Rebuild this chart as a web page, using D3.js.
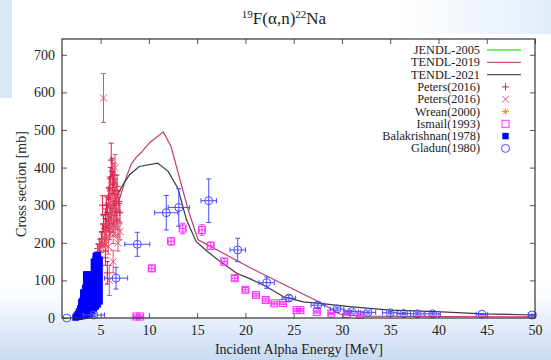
<!DOCTYPE html>
<html>
<head>
<meta charset="utf-8">
<script src="https://cdn.jsdelivr.net/npm/d3@7"></script>
<style>
  body { margin: 0; background: #fff; }
  svg { display: block; font-family: "Liberation Serif", "DejaVu Serif", serif; }
</style>
</head>
<body>
<svg width="551" height="360"></svg>
<script>
// values: energy in MeV, cross section in mb
const xTicks = [5, 10, 15, 20, 25, 30, 35, 40, 45, 50];
const yTicks = [0, 100, 200, 300, 400, 500, 600, 700];
const legendNames = ['JENDL-2005', 'TENDL-2019', 'TENDL-2021', 'Peters(2016)', 'Peters(2016)',
  'Wrean(2000)', 'Ismail(1993)', 'Balakrishnan(1978)', 'Gladun(1980)'];

// evaluations [E, sigma]
const jendl2005 = [];
const tendl2019 = [[5.5, 220], [6.3, 290], [7.0, 320], [7.7, 378], [8.2, 410], [8.7, 428], [9.2, 440],
  [10.1, 467], [11.5, 495], [12.3, 456], [13.2, 370], [14.1, 285], [15.1, 208], [20.4, 135],
  [27.9, 39], [29.8, 10], [32.0, 5], [40.0, 4], [50.0, 3]];
const tendl2021 = [[5.5, 230], [6.2, 290], [6.8, 332], [7.5, 362], [8.0, 381], [9.0, 403], [10.9, 412],
  [12.0, 390], [13.0, 345], [13.9, 261], [14.9, 203], [16.1, 176], [17.5, 148], [19.1, 119],
  [20.5, 104], [22.2, 83], [23.9, 57], [24.6, 52], [26.0, 43], [27.7, 39], [30.8, 30], [35.0, 21],
  [39.8, 17], [44.6, 11], [49.8, 8]];

// measurements [E, sigma, dSigma]
const petersPlus = [[4.7, 185, 12], [4.9, 195, 15], [5.0, 175, 15], [5.1, 210, 18], [5.2, 230, 20],
  [5.2, 300, 25], [5.3, 250, 22], [5.4, 215, 20], [5.5, 265, 25], [5.5, 160, 20], [5.6, 240, 22],
  [5.6, 300, 25], [5.7, 280, 25], [5.7, 120, 30], [5.8, 320, 28], [5.8, 255, 25], [5.9, 345, 30],
  [5.9, 230, 22], [6.0, 300, 28], [6.0, 370, 30], [6.1, 420, 45], [6.1, 275, 25], [6.2, 330, 30],
  [6.2, 390, 35], [6.3, 250, 22], [6.3, 360, 30], [6.4, 310, 28], [6.4, 380, 32], [6.5, 280, 25],
  [6.5, 340, 30], [6.6, 300, 28], [6.7, 350, 30], [6.7, 260, 25], [6.9, 310, 28], [7.0, 280, 25]];
const petersCross = [[5.3, 585, 65], [4.8, 170, 15], [5.0, 190, 15], [5.2, 205, 18], [5.4, 230, 20],
  [5.5, 195, 18], [5.6, 210, 20], [5.7, 250, 22], [5.8, 190, 20], [5.9, 280, 25], [6.0, 240, 22],
  [6.0, 330, 30], [6.1, 260, 25], [6.2, 300, 28], [6.3, 220, 22], [6.4, 270, 25], [6.5, 240, 22],
  [6.5, 400, 35], [6.6, 320, 30], [6.7, 290, 28], [6.8, 240, 25], [6.8, 200, 22], [5.9, 100, 40],
  [6.3, 150, 30], [7.0, 230, 22]];
const wrean = [[2.4, 10], [2.6, 18], [2.9, 24], [3.1, 30]];
const ismail = [[8.7, 4, 4], [9.1, 4, 4], [10.3, 132, 8], [12.3, 204, 10], [13.5, 238, 14],
  [15.5, 234, 14], [16.4, 192, 10], [17.8, 150, 9], [18.9, 106, 7], [20.0, 75, 6], [21.1, 61, 5],
  [22.1, 48, 5], [23.0, 39, 4], [23.9, 40, 4], [25.3, 21, 4], [25.7, 21, 4], [27.4, 16, 3],
  [28.9, 12, 3], [30.5, 11, 3], [31.9, 8, 3]];
const balakrishnan = [
  [2.4, 1], [2.5, 4], [2.6, 8],
  [2.7, 3], [2.7, 12], [2.8, 18],
  [2.9, 4], [2.9, 14], [2.9, 26], [3.0, 34], [3.0, 42],
  [3.1, 5], [3.1, 18], [3.1, 32], [3.1, 46], [3.2, 56], [3.2, 68],
  [3.3, 6], [3.3, 20], [3.3, 35], [3.3, 50], [3.3, 65], [3.4, 80],
  [3.5, 7], [3.5, 22], [3.5, 38], [3.5, 54], [3.5, 70], [3.5, 86], [3.5, 102], [3.5, 116],
  [3.7, 8], [3.7, 24], [3.7, 40], [3.7, 56], [3.7, 72], [3.7, 88], [3.7, 104], [3.7, 116],
  [3.9, 10], [3.9, 26], [3.9, 42], [3.9, 58], [3.9, 74], [3.9, 90], [3.9, 106], [3.9, 115],
  [4.1, 18], [4.1, 32], [4.1, 48], [4.1, 64], [4.1, 80], [4.1, 92],
  [4.3, 24], [4.3, 40], [4.3, 56], [4.3, 72], [4.3, 88], [4.3, 104], [4.3, 120], [4.3, 136], [4.3, 150],
  [4.5, 30], [4.5, 46], [4.5, 62], [4.5, 78], [4.5, 94], [4.5, 110], [4.5, 126], [4.5, 142], [4.5, 158], [4.5, 166],
  [4.7, 36], [4.7, 52], [4.7, 68], [4.7, 84], [4.7, 100], [4.7, 116], [4.7, 132], [4.7, 148], [4.7, 164], [4.7, 168],
  [4.9, 44], [4.9, 60], [4.9, 76], [4.9, 92], [4.9, 108], [4.9, 124], [4.9, 140], [4.9, 155]];
// [E, sigma, dE, dSigma]
const gladun = [[1.5, 0, 0, 0], [4.3, 8, 1.1, 4], [6.6, 106, 1.2, 29], [8.8, 196, 1.3, 32],
  [11.8, 280, 1.2, 46], [13.1, 294, 1.1, 50], [16.2, 312, 0.8, 58], [19.2, 181, 0.8, 31],
  [22.2, 94, 0.8, 15], [24.5, 53, 0.7, 8], [27.5, 34, 0.7, 6], [29.5, 24, 0.7, 5], [31.0, 17, 0.7, 4],
  [32.7, 15, 0.8, 4], [35.0, 14, 0.8, 3], [36.4, 12, 0.7, 3], [37.8, 11, 0.7, 3], [39.4, 11, 0.8, 3],
  [44.5, 10, 0.6, 2], [49.7, 8, 0.4, 2]];

const svg = d3.select('svg');
const defs = svg.append('defs');

// slide background
const gBottom = defs.append('linearGradient').attr('id', 'bottomFade')
  .attr('x1', 0).attr('y1', 0).attr('x2', 0).attr('y2', 1);
gBottom.append('stop').attr('offset', '0%').attr('stop-color', '#d4e4f7').attr('stop-opacity', 0);
gBottom.append('stop').attr('offset', '100%').attr('stop-color', '#c6daf3').attr('stop-opacity', 1);
const gTop = defs.append('linearGradient').attr('id', 'topFade')
  .attr('x1', 0).attr('y1', 0).attr('x2', 1).attr('y2', 0);
gTop.append('stop').attr('offset', '0%').attr('stop-color', '#e2ecf9').attr('stop-opacity', 0);
gTop.append('stop').attr('offset', '100%').attr('stop-color', '#e2ecf9').attr('stop-opacity', 1);

svg.append('rect').attr('x', 0).attr('y', 285).attr('width', 551).attr('height', 75).attr('fill', 'url(#bottomFade)');
svg.append('rect').attr('x', 0).attr('y', 0).attr('width', 12).attr('height', 98).attr('fill', '#d9e6f8');
svg.append('rect').attr('x', 400).attr('y', 0).attr('width', 151).attr('height', 34).attr('fill', 'url(#topFade)');

const margin = { top: 39, right: 16, bottom: 42, left: 62 };
const width = +svg.attr('width');
const height = +svg.attr('height');
const plotW = width - margin.left - margin.right;
const plotH = height - margin.top - margin.bottom;

const x = d3.scaleLinear().domain([1, 50]).range([0, plotW]);
const y = d3.scaleLinear().domain([0, 742]).range([plotH, 0]);

const chart = svg.append('g').attr('transform', `translate(${margin.left},${margin.top})`);
chart.append('rect').attr('width', plotW).attr('height', plotH).attr('fill', '#fff');

// axes, gnuplot style: inward ticks mirrored on all sides
const styleAxis = (g) => {
  g.select('.domain').remove();
  g.selectAll('.tick line').attr('stroke', '#555');
  g.selectAll('.tick text').attr('fill', '#222')
    .style('font-family', '"Liberation Serif", serif').style('font-size', '14px');
};
chart.append('g').attr('transform', `translate(0,${plotH})`)
  .call(d3.axisBottom(x).tickValues(xTicks).tickSizeInner(-5).tickSizeOuter(0).tickPadding(7))
  .call(styleAxis);
chart.append('g')
  .call(d3.axisTop(x).tickValues(xTicks).tickSizeInner(-5).tickSizeOuter(0).tickFormat(''))
  .call(styleAxis);
chart.append('g')
  .call(d3.axisLeft(y).tickValues(yTicks).tickSizeInner(-5).tickSizeOuter(0).tickPadding(7))
  .call(styleAxis);
chart.append('g').attr('transform', `translate(${plotW},0)`)
  .call(d3.axisRight(y).tickValues(yTicks).tickSizeInner(-5).tickSizeOuter(0).tickFormat(''))
  .call(styleAxis);

// curves
const line = d3.line().x((d) => x(d[0])).y((d) => y(d[1]));
chart.append('path').datum(jendl2005).attr('d', line).attr('fill', 'none').attr('stroke', '#44ee44').attr('stroke-width', 1.2);
chart.append('path').datum(tendl2019).attr('d', line).attr('fill', 'none').attr('stroke', '#c23a6c').attr('stroke-width', 1.2);
chart.append('path').datum(tendl2021).attr('d', line).attr('fill', 'none').attr('stroke', '#3a3a3a').attr('stroke-width', 1.2);

// point symbols
function symbolPath(type, s) {
  if (type === 'plus') return `M${-s},0H${s}M0,${-s}V${s}`;
  if (type === 'cross') return `M${-s},${-s}L${s},${s}M${-s},${s}L${s},${-s}`;
  if (type === 'star') return `M${-s},0H${s}M0,${-s}V${s}M${-s * 0.75},${-s * 0.75}L${s * 0.75},${s * 0.75}M${-s * 0.75},${s * 0.75}L${s * 0.75},${-s * 0.75}`;
  return '';
}
function drawSymbol(g, type, cx, cy, color) {
  if (type === 'square') {
    g.append('rect').attr('x', cx - 3.5).attr('y', cy - 3.5).attr('width', 7).attr('height', 7)
      .attr('fill', 'none').attr('stroke', color).attr('stroke-width', 1);
  } else if (type === 'fsquare') {
    g.append('rect').attr('x', cx - 3.2).attr('y', cy - 3.2).attr('width', 6.4).attr('height', 6.4)
      .attr('fill', color);
  } else if (type === 'circle') {
    g.append('circle').attr('cx', cx).attr('cy', cy).attr('r', 4)
      .attr('fill', 'none').attr('stroke', color).attr('stroke-width', 1);
  } else {
    g.append('path').attr('transform', `translate(${cx},${cy})`).attr('d', symbolPath(type, 3.5))
      .attr('fill', 'none').attr('stroke', color).attr('stroke-width', 1);
  }
}
function yErr(g, e, s, ds, color) {
  if (!ds) return;
  const px = x(e), y0 = y(s - ds), y1 = y(s + ds);
  g.append('path').attr('d', `M${px},${y0}V${y1}M${px - 2.5},${y0}H${px + 2.5}M${px - 2.5},${y1}H${px + 2.5}`)
    .attr('fill', 'none').attr('stroke', color).attr('stroke-width', 1);
}
function xErr(g, e, s, de, color) {
  if (!de) return;
  const py = y(s), x0 = x(e - de), x1 = x(e + de);
  g.append('path').attr('d', `M${x0},${py}H${x1}M${x0},${py - 2.5}V${py + 2.5}M${x1},${py - 2.5}V${py + 2.5}`)
    .attr('fill', 'none').attr('stroke', color).attr('stroke-width', 1);
}

const pts = chart.append('g');
const cPlus = '#d81e48', cCross = '#e2506e', cWrean = '#ff9a1a', cIsmail = '#ff30ff', cBala = '#0000ff', cGladun = '#4a4aff';

const gPlus = pts.append('g');
petersPlus.forEach((d) => { yErr(gPlus, d[0], d[1], d[2], cPlus); drawSymbol(gPlus, 'plus', x(d[0]), y(d[1]), cPlus); });
const gCross = pts.append('g');
petersCross.forEach((d) => { yErr(gCross, d[0], d[1], d[2], cCross); drawSymbol(gCross, 'cross', x(d[0]), y(d[1]), cCross); });
const gWrean = pts.append('g');
wrean.forEach((d) => drawSymbol(gWrean, 'star', x(d[0]), y(d[1]), cWrean));
const gIsmail = pts.append('g');
ismail.forEach((d) => {
  yErr(gIsmail, d[0], d[1], d[2], cIsmail);
  xErr(gIsmail, d[0], d[1], 0.3, cIsmail);
  drawSymbol(gIsmail, 'square', x(d[0]), y(d[1]), cIsmail);
});
const gBala = pts.append('g');
balakrishnan.forEach((d) => drawSymbol(gBala, 'fsquare', x(d[0]), y(d[1]), cBala));
const gGladun = pts.append('g');
gladun.forEach((d) => {
  yErr(gGladun, d[0], d[1], d[3], cGladun);
  xErr(gGladun, d[0], d[1], d[2], cGladun);
  drawSymbol(gGladun, 'circle', x(d[0]), y(d[1]), cGladun);
});

// frame
chart.append('rect').attr('width', plotW).attr('height', plotH)
  .attr('fill', 'none').attr('stroke', '#333').attr('stroke-width', 1.2);

// legend
const legendStyles = [
  { kind: 'line', color: '#44ee44' },
  { kind: 'line', color: '#d04a80' },
  { kind: 'line', color: '#555' },
  { kind: 'plus', color: cPlus },
  { kind: 'cross', color: cCross },
  { kind: 'star', color: cWrean },
  { kind: 'square', color: cIsmail },
  { kind: 'fsquare', color: cBala },
  { kind: 'circle', color: cGladun }
];
const legend = svg.append('g').attr('transform', 'translate(480,50)');
legendNames.forEach((name, i) => {
  const row = legend.append('g').attr('transform', `translate(0,${i * 12.3})`);
  row.append('text').attr('x', 0).attr('y', 0).attr('dy', '0.33em').attr('text-anchor', 'end')
    .style('font-size', '12.3px').attr('fill', '#222').text(name);
  const st = legendStyles[i];
  if (st.kind === 'line') {
    row.append('line').attr('x1', 7).attr('x2', 41).attr('y1', 0).attr('y2', 0)
      .attr('stroke', st.color).attr('stroke-width', 1.3);
  } else {
    drawSymbol(row, st.kind, 25.5, 0, st.color);
  }
});

// title and axis labels
const title = svg.append('text').attr('x', 284).attr('y', 24).attr('text-anchor', 'middle')
  .style('font-size', '17px').attr('fill', '#222');
title.append('tspan').attr('dy', '-6').style('font-size', '11px').text('19');
title.append('tspan').attr('dy', '6').text('F(α,n)');
title.append('tspan').attr('dy', '-6').style('font-size', '11px').text('22');
title.append('tspan').attr('dy', '6').text('Na');

svg.append('text').attr('transform', 'translate(26,184) rotate(-90)').attr('text-anchor', 'middle')
  .style('font-size', '14px').attr('fill', '#222').text('Cross section [mb]');
svg.append('text').attr('x', 299).attr('y', 354).attr('text-anchor', 'middle')
  .style('font-size', '14px').attr('fill', '#222').text('Incident Alpha Energy [MeV]');
</script>
</body>
</html>
